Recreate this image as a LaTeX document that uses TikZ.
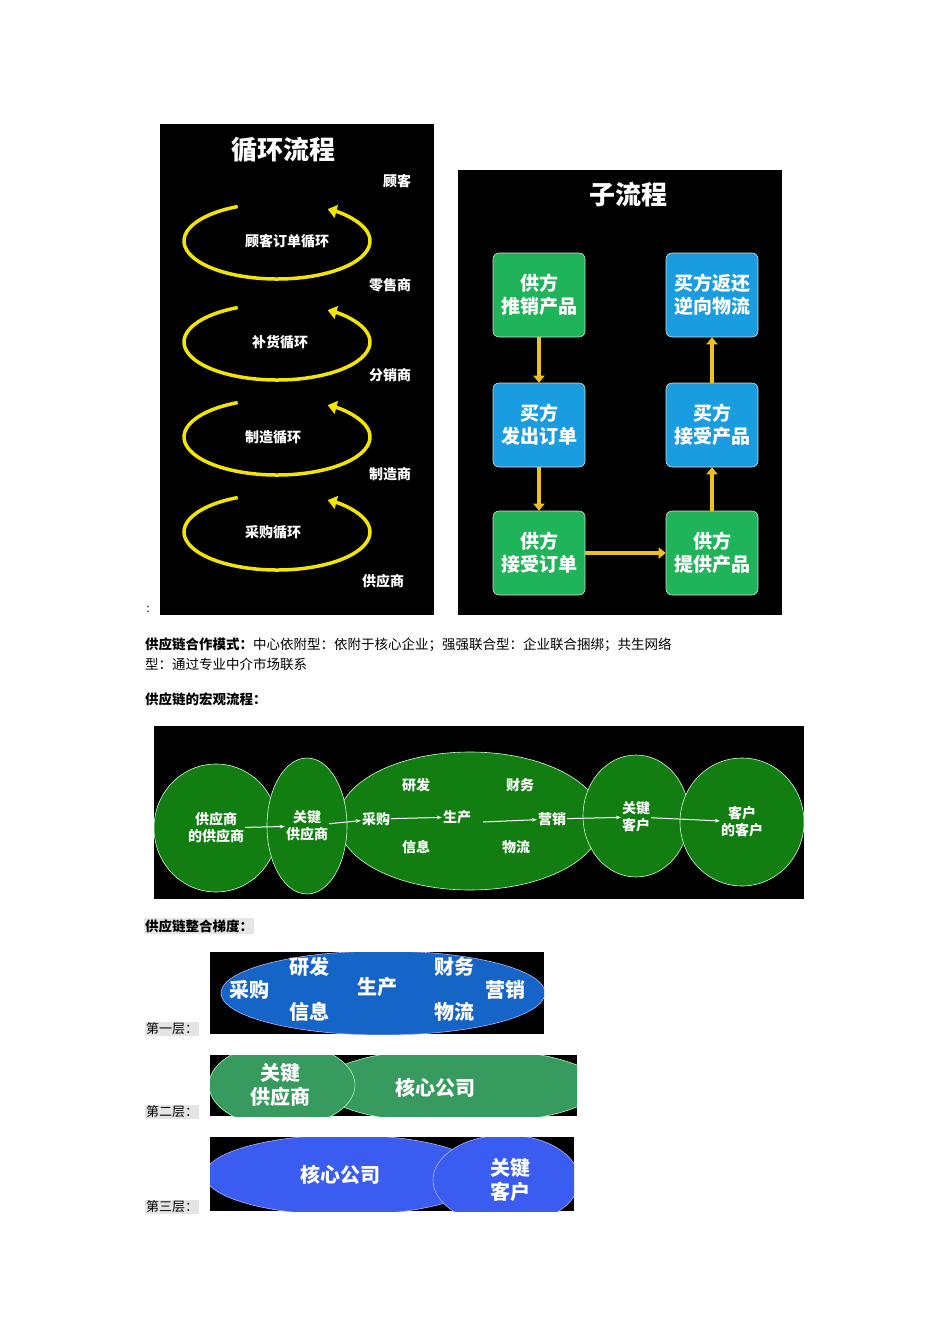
\documentclass[tikz,border=0pt]{standalone}
\usepackage{fontspec}
\setmainfont{Noto Sans CJK SC}
\newfontfamily\serifcjk{Noto Sans CJK SC}
\usetikzlibrary{arrows.meta}
\definecolor{ygold}{HTML}{F2E600}
\definecolor{bgreen}{HTML}{1FB45A}
\definecolor{bblue}{HTML}{1A9DE0}
\definecolor{dgreen}{HTML}{127E12}
\definecolor{lblue}{HTML}{1565C8}
\definecolor{lgreen}{HTML}{379A5F}
\definecolor{lblue3}{HTML}{3A5CF0}
\definecolor{arrowy}{HTML}{F0C020}
\tikzset{
  wt/.style={text=white,font=\bfseries\fontsize{14}{16}\selectfont,align=center,inner sep=0pt},
  loop/.style={draw=ygold,line width=3.5pt,-{Triangle[length=9pt,width=13pt]}},
  flowbox/.style={rounded corners=6pt,minimum width=92pt,minimum height=84pt,draw=white!70!gray,line width=0.6pt,text=white,font=\bfseries\fontsize{19}{23}\selectfont,align=center},
  yarr/.style={draw=arrowy,line width=4pt,-{Triangle[length=7pt,width=11pt]}},
  gell/.style={fill=dgreen,draw=white!80!green,line width=0.6pt},
  warr/.style={draw=white,line width=1pt,-{Stealth[length=5pt]}},
  body/.style={font=\fontsize{13.5}{16}\selectfont,inner sep=0pt,anchor=west},
  lyr/.style={font=\fontsize{13}{15}\selectfont,fill=gray!20,inner sep=1pt,anchor=south west},
  big/.style={text=white,font=\bfseries\fontsize{20}{24}\selectfont,align=center,inner sep=0pt}
}
\begin{document}
\begin{tikzpicture}[x=1pt,y=-1pt]
\useasboundingbox (0,0) rectangle (950,1344);
\fill[white] (0,0) rectangle (950,1344);
% panel 1
\fill[black] (160,124) rectangle (434,615);
\node[text=white,font=\itshape\bfseries\fontsize{26}{30}\selectfont] (t1) at (283,150) {循环流程};
\foreach \n/\y/\lab in {a/241/顾客订单循环,b/342/补货循环,c/437/制造循环,d/532/采购循环}{
  \draw[loop] (277,\y) ++(115:93 and -38) arc[start angle=115,end angle=417,x radius=93,y radius=-38];
}
\node[wt] (l1) at (287,241) {顾客订单循环};
\node[wt] (l2) at (280,342) {补货循环};
\node[wt] (l3) at (273,437) {制造循环};
\node[wt] (l4) at (273,532) {采购循环};
\node[wt] (r1) at (397,181) {顾客};
\node[wt] (r2) at (390,285) {零售商};
\node[wt] (r3) at (390,375) {分销商};
\node[wt] (r4) at (390,474) {制造商};
\node[wt] (r5) at (383,581) {供应商};
\node[font=\fontsize{12}{14}\selectfont] (colon) at (148,609) {:};
% panel 2
\fill[black] (458,170) rectangle (782,615);
\node[text=white,font=\itshape\bfseries\fontsize{26}{30}\selectfont] (t2) at (628,195) {子流程};
\node[flowbox,fill=bgreen] (b1) at (539,295) {供方\\推销产品};
\node[flowbox,fill=bblue] (b2) at (539,425) {买方\\发出订单};
\node[flowbox,fill=bgreen] (b3) at (539,553) {供方\\接受订单};
\node[flowbox,fill=bblue] (b4) at (712,295) {买方返还\\逆向物流};
\node[flowbox,fill=bblue] (b5) at (712,425) {买方\\接受产品};
\node[flowbox,fill=bgreen] (b6) at (712,553) {供方\\提供产品};
\draw[yarr] (b1) -- (b2);
\draw[yarr] (b2) -- (b3);
\draw[yarr] (b3) -- (b6);
\draw[yarr] (b6) -- (b5);
\draw[yarr] (b5) -- (b4);
% text
\node[body] (p1) at (145,645) {\textbf{供应链合作模式：}中心依附型：依附于核心企业；强强联合型：企业联合捆绑；共生网络};
\node[body] (p2) at (145,664) {型：通过专业中介市场联系};
\node[body] (p3) at (145,699) {\textbf{供应链的宏观流程：}};
% panel 3
\fill[black] (154,726) rectangle (804,899);
\begin{scope}
\clip (154,726) rectangle (804,899);
\draw[gell] (470,821) ellipse[x radius=132,y radius=69];
\draw[gell] (216,828) ellipse[x radius=62,y radius=64];
\draw[gell] (307,826) ellipse[x radius=40,y radius=68];
\draw[gell] (636,816) ellipse[x radius=53,y radius=61];
\draw[gell] (742,822) ellipse[x radius=62,y radius=64];
\end{scope}
\tikzset{gt/.style={text=white,font=\bfseries\fontsize{14}{17}\selectfont,align=center,inner sep=1pt}}
\node[gt] (m1) at (216,828) {供应商\\的供应商};
\node[gt] (m2) at (307,826) {关键\\供应商};
\node[gt] (m3) at (376,819) {采购};
\node[gt] (m4) at (457,817) {生产};
\node[gt] (m5) at (552,819) {营销};
\node[gt] (m6) at (636,817) {关键\\客户};
\node[gt] (m7) at (742,822) {客户\\的客户};
\node[gt] (m8) at (416,785) {研发};
\node[gt] (m9) at (520,785) {财务};
\node[gt] (m10) at (416,847) {信息};
\node[gt] (m11) at (516,847) {物流};
\draw[warr] (m1) -- (m2);
\draw[warr] (m2) -- (m3);
\draw[warr] (m3) -- (m4);
\draw[warr] (483,822) -- (m5);
\draw[warr] (m5) -- (m6);
\draw[warr] (m6) -- (m7);
\node[body,font=\bfseries\fontsize{13.5}{16}\selectfont,fill=gray!20,inner sep=1pt] (p4) at (144,926) {供应链整合梯度：};
% layer 1
\fill[black] (210,952) rectangle (544,1034);
\begin{scope}
\clip (210,952) rectangle (544,1034);
\draw[fill=lblue,draw=white!70!blue,line width=0.6pt] (383,993) ellipse[x radius=162,y radius=42];
\end{scope}
\node[big] (q1) at (249,990) {采购};
\node[big] (q2) at (309,967) {研发};
\node[big] (q3) at (309,1012) {信息};
\node[big] (q4) at (377,987) {生产};
\node[big] (q5) at (454,967) {财务};
\node[big] (q6) at (454,1012) {物流};
\node[big] (q7) at (505,990) {营销};
\node[lyr] (y1) at (145,1036) {第一层：};
% layer 2
\fill[black] (210,1055) rectangle (577,1116);
\begin{scope}
\clip (210,1055) rectangle (577,1116);
\draw[fill=lgreen,draw=white!70!green,line width=0.6pt] (460,1086) ellipse[x radius=140,y radius=38];
\draw[fill=lgreen,draw=white!70!green,line width=0.6pt] (282,1085) ellipse[x radius=73,y radius=42];
\end{scope}
\node[big] (s1) at (280,1085) {关键\\供应商};
\node[big] (s2) at (435,1088) {核心公司};
\node[lyr] (y2) at (145,1119) {第二层：};
% layer 3
\fill[black] (210,1137) rectangle (574,1211);
\begin{scope}
\clip (210,1137) rectangle (574,1211);
\draw[fill=lblue3,draw=white!70!blue,line width=0.6pt] (345,1175) ellipse[x radius=140,y radius=40];
\draw[fill=lblue3,draw=white!70!blue,line width=0.6pt] (506,1180) ellipse[x radius=73,y radius=45];
\end{scope}
\node[big] (u1) at (340,1175) {核心公司};
\node[big] (u2) at (510,1180) {关键\\客户};
\node[lyr] (y3) at (145,1214) {第三层：};
\end{tikzpicture}
\end{document}
